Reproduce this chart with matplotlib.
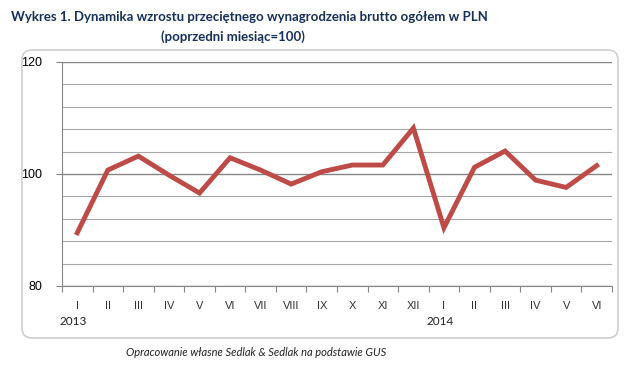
import numpy as np
import matplotlib.pyplot as plt
from matplotlib.patches import FancyBboxPatch
from matplotlib import transforms

months = ['I', 'II', 'III', 'IV', 'V', 'VI', 'VII', 'VIII', 'IX', 'X', 'XI', 'XII',
          'I', 'II', 'III', 'IV', 'V', 'VI']
years = ['2013', '2014']
year_pos = [0, 12]
values = [89.5, 100.7, 103.2, 99.8, 96.6, 102.9, 100.7, 98.2, 100.4, 101.6, 101.6, 108.2,
          90.4, 101.2, 104.1, 98.9, 97.6, 101.5]
yticks = [80, 100, 120]

fig = plt.figure(figsize=(6.43, 3.69), dpi=100)
fig.patch.set_facecolor('white')

# background axes in pixel units, holding the rounded frame
bg = fig.add_axes([0, 0, 1, 1])
bg.set_xlim(0, 643)
bg.set_ylim(369, 0)
bg.axis('off')
bg.add_patch(FancyBboxPatch((22, 50), 596, 288, boxstyle='round,pad=0,rounding_size=10',
                            fc='white', ec='#cfcfcf', lw=1.2))

ax = fig.add_axes([62/643, 1-286/369, (612-62)/643, (286-62)/369])
ax.patch.set_alpha(0)
x = np.arange(len(values))
ax.plot(x, values, color='#be4b48', lw=3.5, solid_joinstyle='miter', zorder=3)
ax.set_xlim(-0.5, len(values)-0.5)
ax.set_ylim(80, 120)

for g in np.arange(80, 121, 4):
    major = g in yticks
    ax.axhline(g, color='#868686' if major else '#a6a6a6', lw=1.0 if major else 0.8, zorder=0)

ax.set_yticks(yticks)
ax.set_yticklabels([str(v) for v in yticks], fontsize=9, family='Liberation Sans')
ax.set_xticks(np.arange(-0.5, len(values), 1.0))
ax.set_xticklabels([])
ax.tick_params(axis='x', length=4, color='#868686', direction='out')
ax.tick_params(axis='y', length=4, color='#868686', pad=10)

off = transforms.ScaledTranslation(0, -10.5/72, fig.dpi_scale_trans)
for i, m in enumerate(months):
    ax.text(i, 80, m, transform=ax.transData + off, ha='center', va='top', fontsize=8,
            family='Liberation Sans', color='#333333')
for p, y in zip(year_pos, years):
    ax.annotate(y, (p, 0), xycoords=('data', 'axes fraction'), xytext=(-3, -21.5),
                textcoords='offset points', ha='center', va='top', fontsize=8.5,
                family='Lato', color='#222222')

for s in ['top', 'right']:
    ax.spines[s].set_visible(False)
ax.spines['left'].set_color('#868686')
ax.spines['bottom'].set_color('#868686')

fig.text(11/643, 1-17/369, 'Wykres 1. Dynamika wzrostu przeciętnego wynagrodzenia brutto ogółem w PLN',
         ha='left', va='center', fontsize=9.5, fontweight='bold', color='#17305a', family='Lato')
fig.text(233/643, 1-37/369, '(poprzedni miesiąc=100)',
         ha='center', va='center', fontsize=9.5, fontweight='bold', color='#17305a', family='Lato')
fig.text(256/643, 1-352/369, 'Opracowanie własne Sedlak & Sedlak na podstawie GUS',
         ha='center', va='center', fontsize=8, style='italic', color='#222222', family='Lato')

fig.savefig('out.png', dpi=100)
